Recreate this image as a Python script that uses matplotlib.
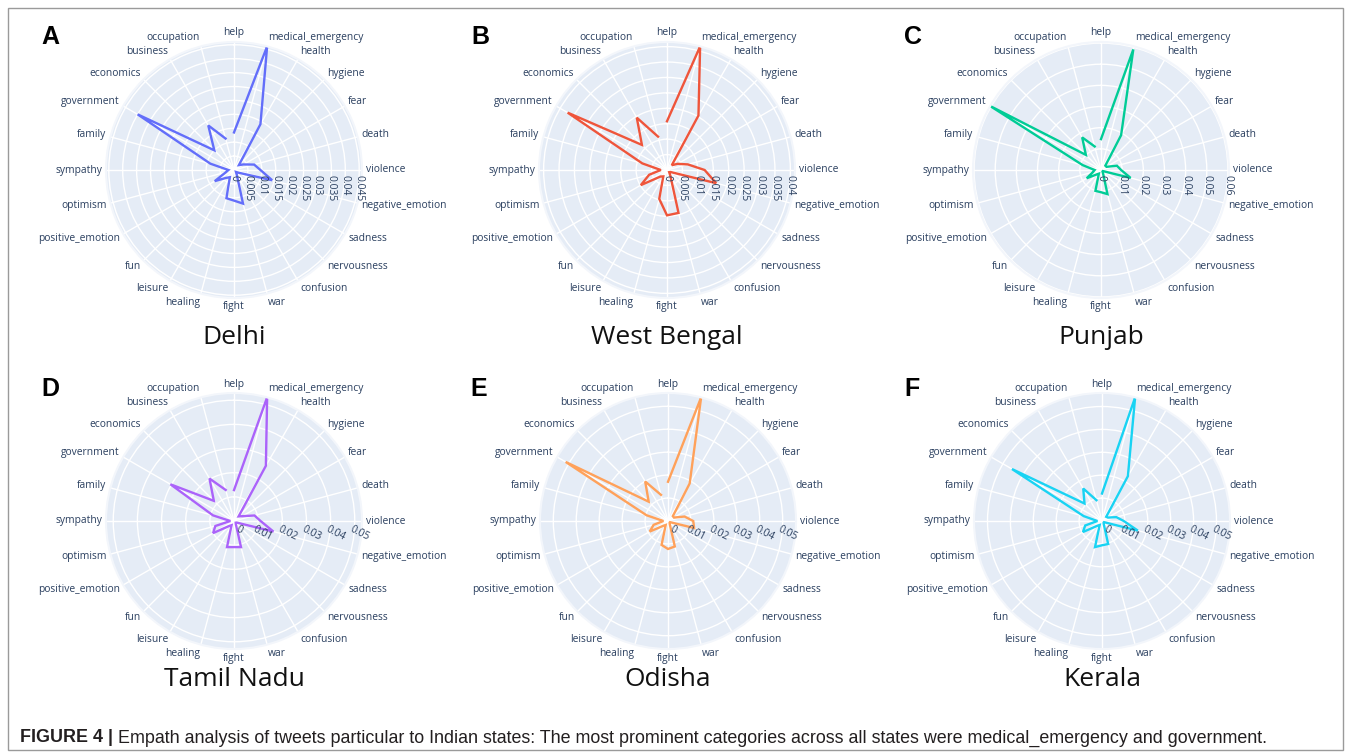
import numpy as np
import matplotlib
matplotlib.use("Agg")
import matplotlib.pyplot as plt
from matplotlib.transforms import offset_copy
from matplotlib.patches import Rectangle

categories = ["help", "medical_emergency", "health", "hygiene", "fear", "death",
              "violence", "negative_emotion", "sadness", "nervousness", "confusion",
              "war", "fight", "healing", "leisure", "fun", "positive_emotion",
              "optimism", "sympathy", "family", "government", "economics",
              "business", "occupation"]

delhi = [0.0135, 0.046, 0.019, 0.0025, 0.004, 0.0075, 0.0095, 0.0142, 0.002, 0.001,
         0.002, 0.0125, 0.011, 0.0105, 0.003, 0.004, 0.008, 0.003, 0.002, 0.0088,
         0.040, 0.010, 0.0185, 0.0117]
west_bengal = [0.0158, 0.0415, 0.0204, 0.0022, 0.004, 0.007, 0.0122, 0.0165, 0.0013, 0.001,
               0.0022, 0.0144, 0.0147, 0.0097, 0.0024, 0.003, 0.0098, 0.006, 0.002, 0.0083,
               0.0372, 0.0115, 0.0196, 0.0112]
punjab = [0.0146, 0.059, 0.019, 0.0029, 0.003, 0.0078, 0.0095, 0.0145, 0.001, 0.001,
          0.002, 0.0118, 0.0105, 0.0102, 0.002, 0.003, 0.0078, 0.004, 0.003, 0.009,
          0.0605, 0.0101, 0.0178, 0.0115]
tamil_nadu = [0.0128, 0.053, 0.0264, 0.0027, 0.004, 0.0088, 0.011, 0.0169, 0.0013, 0.001,
              0.0015, 0.0112, 0.0108, 0.0112, 0.002, 0.003, 0.010, 0.008, 0.0015, 0.009,
              0.0304, 0.0118, 0.0203, 0.0133]
odisha = [0.0171, 0.0558, 0.0189, 0.003, 0.003, 0.0075, 0.011, 0.0118, 0.001, 0.001,
          0.0015, 0.0115, 0.0122, 0.0108, 0.002, 0.003, 0.0092, 0.0065, 0.002, 0.0097,
          0.0515, 0.0119, 0.0199, 0.0118]
kerala = [0.012, 0.0559, 0.0226, 0.0026, 0.003, 0.0065, 0.0095, 0.0162, 0.001, 0.001,
          0.0015, 0.0104, 0.0106, 0.0118, 0.002, 0.003, 0.0096, 0.0076, 0.002, 0.0083,
          0.0454, 0.0108, 0.0164, 0.0094]

states = ["Delhi", "West Bengal", "Punjab", "Tamil Nadu", "Odisha", "Kerala"]
letters = ["A", "B", "C", "D", "E", "F"]
series = [delhi, west_bengal, punjab, tamil_nadu, odisha, kerala]
colors = ["#636EFA", "#EF553B", "#00CC96", "#AB63FA", "#FFA15A", "#19D3F3"]
steps = [0.005, 0.005, 0.01, 0.01, 0.01, 0.01]

W, H = 1351, 756
# panel centres in pixels (from top-left)
centres = [(234, 170), (667, 170), (1101, 170), (234, 521), (668, 521), (1102, 521)]
R = 128

txt_col = "#2a3f5f"
fig = plt.figure(figsize=(W / 100, H / 100), dpi=100)
fig.patch.set_facecolor("white")

n = len(categories)
theta = np.arange(n) * 2 * np.pi / n

for k in range(6):
    cx, cy = centres[k]
    ax = fig.add_axes([(cx - R) / W, (H - cy - R) / H, 2 * R / W, 2 * R / H], projection="polar")
    ax.set_theta_offset(np.pi / 2)
    ax.set_theta_direction(-1)
    vals = series[k]
    rmax = max(vals)
    ax.set_ylim(0, rmax)
    ticks = np.arange(0, rmax + 1e-9, steps[k])
    ax.set_yticks(ticks)
    ax.set_yticklabels([])
    ax.set_xticks(theta)
    ax.set_xticklabels([])
    ax.set_facecolor("#E5ECF6")
    ax.grid(True, color="white", lw=1.0)
    ax.spines["polar"].set_color("#f3f6fb")
    ax.spines["polar"].set_linewidth(1.5)

    ax.plot(theta, vals, color=colors[k], lw=1.7, solid_joinstyle="miter", clip_on=False)

    # angular labels
    for i, c in enumerate(categories):
        phi = np.pi / 2 - theta[i]
        co, si = np.cos(phi), np.sin(phi)
        if abs(co) < 0.05:
            ha = "center"
        elif co > 0:
            ha = "left"
        else:
            ha = "right"
        x = 0.5 + (0.5 + 4 / (2 * R)) * co
        y = 0.5 + (0.5 + 4 / (2 * R)) * si + 5 / (2 * R) * si
        ax.text(x, y, c, transform=ax.transAxes, ha=ha, va="center",
                fontsize=7.4, color=txt_col, family="Open Sans")

    # radial tick labels along the "violence" spoke
    if k < 3:
        tr = offset_copy(ax.transData, fig=fig, x=0, y=-5, units="dots")
        rot = -90
    else:
        tr = offset_copy(ax.transData, fig=fig, x=5, y=-3, units="dots")
        rot = -27
    for t in ticks:
        ax.text(np.pi / 2, t, "{:g}".format(round(t, 4)), transform=tr, rotation=rot,
                ha="center", va="top", fontsize=7.4, color=txt_col, family="Open Sans")

    title_y = 338 if k < 3 else 680
    fig.text(cx / W, 1 - title_y / H, states[k], ha="center", va="center",
             fontsize=19, family="Open Sans", color="#111111")

letter_pos = [(50, 37), (480, 37), (913, 37), (50, 389), (479, 389), (912, 389)]
for (lx, ly), L in zip(letter_pos, letters):
    fig.text(lx / W, 1 - ly / H, L, ha="center", va="center", fontsize=18,
             fontweight="bold", family="Liberation Sans", color="black")

# caption
fig.canvas.draw()
t1 = fig.text(20 / W, 1 - 738 / H, "FIGURE 4 |", ha="left", va="center", fontsize=12.9,
              fontweight="bold", family="Liberation Sans", color="#231f20")
bb = t1.get_window_extent(renderer=fig.canvas.get_renderer())
fig.text((bb.x1 + 5) / W, 1 - 738 / H,
         "Empath analysis of tweets particular to Indian states: The most prominent "
         "categories across all states were medical_emergency and government.",
         ha="left", va="center", fontsize=12.9, family="Liberation Sans", color="#231f20")

fig.patches.append(Rectangle((8 / W, 6 / H), 1335 / W, 742 / H, transform=fig.transFigure,
                             fill=False, edgecolor="#9a9a9a", lw=1.0))

fig.savefig("out.png", dpi=100)
